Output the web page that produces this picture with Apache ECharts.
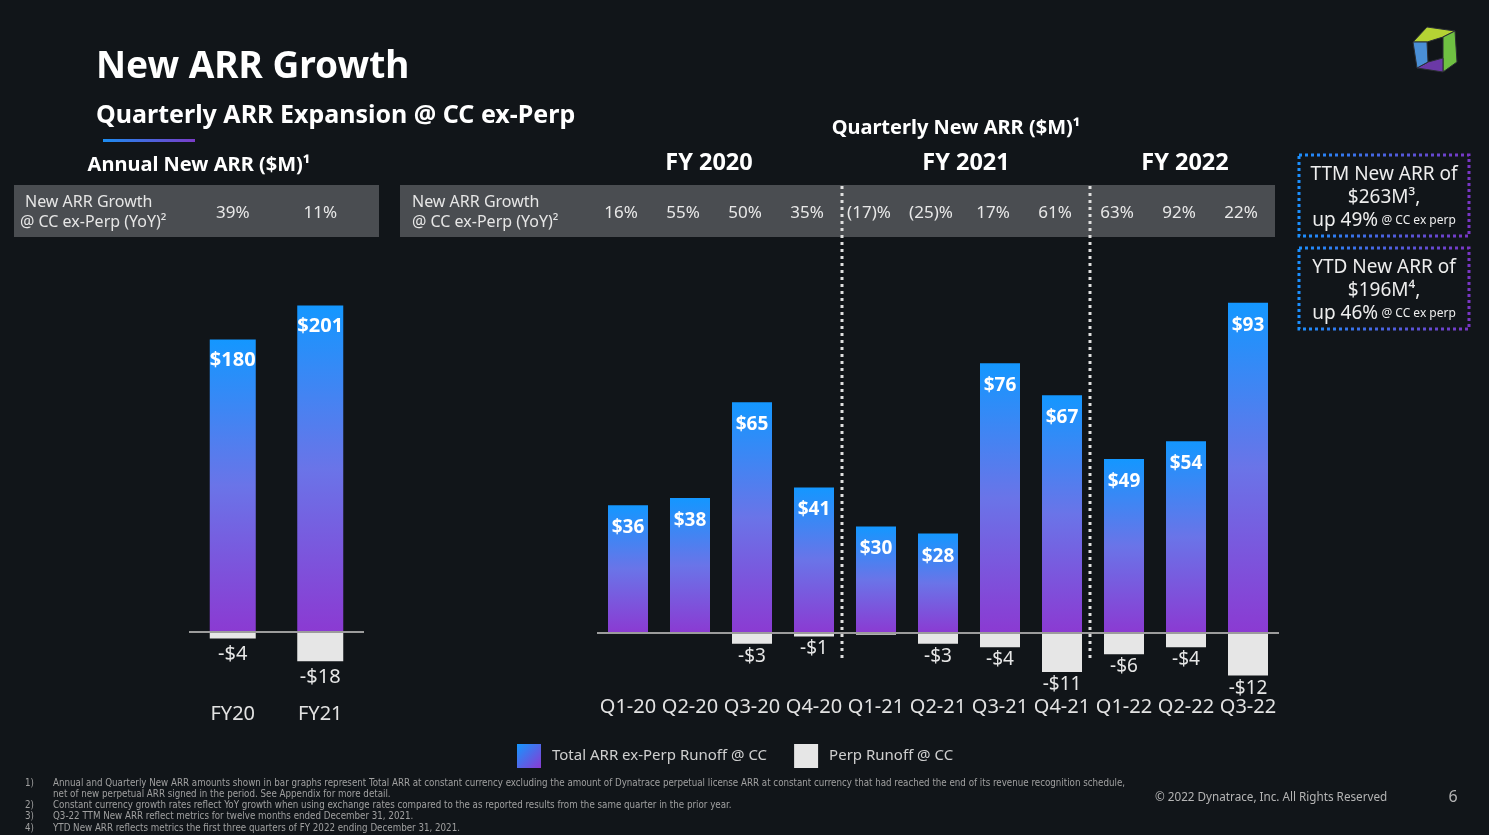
<!DOCTYPE html>
<html>
<head>
<meta charset="utf-8">
<script src="https://cdn.jsdelivr.net/npm/echarts@6/dist/echarts.min.js"></script>
<style>
html,body{margin:0;padding:0;background:#111519;}
#c{width:1489px;height:835px;}
</style>
</head>
<body>
<div id="c"></div>
<script>
// ---- data ----
const years = ['FY20', 'FY21'];
const annualNew = [180, 201];
const annualPerp = [-4, -18];
const annualGrowth = ['39%', '11%'];

const quarters = ['Q1-20','Q2-20','Q3-20','Q4-20','Q1-21','Q2-21','Q3-21','Q4-21','Q1-22','Q2-22','Q3-22'];
const quarterNew = [36, 38, 65, 41, 30, 28, 76, 67, 49, 54, 93];
const quarterPerp = [0, 0, -3, -1, -0.5, -3, -4, -11, -6, -4, -12];
const quarterGrowth = ['16%','55%','50%','35%','(17)%','(25)%','17%','61%','63%','92%','22%'];

const fiscalYears = ['FY 2020', 'FY 2021', 'FY 2022'];
const footnotes = [
  ['1)', 'Annual and Quarterly New ARR amounts shown in bar graphs represent Total ARR at constant currency excluding the amount of Dynatrace perpetual license ARR at constant currency that had reached the end of its revenue recognition schedule,'],
  ['', 'net of new perpetual ARR signed in the period. See Appendix for more detail.'],
  ['2)', 'Constant currency growth rates reflect YoY growth when using exchange rates compared to the as reported results from the same quarter in the prior year.'],
  ['3)', 'Q3-22 TTM New ARR reflect metrics for twelve months ended December 31, 2021.'],
  ['4)', 'YTD New ARR reflects metrics the first three quarters of FY 2022 ending December 31, 2021.']
];

// ---- styles ----
const FONT = '"Noto Sans", "Open Sans", sans-serif';
const barGrad = new echarts.graphic.LinearGradient(0, 0, 0, 1, [
  {offset: 0, color: '#1497ff'},
  {offset: 0.5, color: '#6a74e8'},
  {offset: 1, color: '#8b3ad2'}
]);
const legendGrad = new echarts.graphic.LinearGradient(0, 0, 1, 1, [
  {offset: 0, color: '#1497ff'},
  {offset: 1, color: '#8b3ad2'}
]);
const perpColor = '#e6e6e6';
const NEW_NAME = 'Total ARR ex-Perp Runoff @ CC';
const PERP_NAME = 'Perp Runoff @ CC';

const zeroLine = {
  silent: true, animation: false, symbol: ['none', 'none'],
  label: {show: false},
  lineStyle: {color: '#9c9c9c', width: 2, type: 'solid'},
  data: [{yAxis: 0}]
};

function posLabel(size, dist) {
  return {show: true, position: 'insideTop', distance: dist, color: '#ffffff',
    fontWeight: 'bold', fontSize: size, fontFamily: FONT,
    formatter: p => '$' + p.value};
}
function negLabel(size, dist) {
  return {show: true, position: 'bottom', distance: dist, color: '#e6e6e6',
    fontSize: size, fontFamily: FONT,
    formatter: p => (p.value <= -1 ? '-$' + Math.abs(p.value) : '')};
}

function txt(x, y, text, size, opts) {
  opts = opts || {};
  return {type: 'text', silent: true, x: x, y: y, style: {
    text: text, fill: opts.fill || '#ffffff',
    font: (opts.weight || 'normal') + ' ' + size + 'px ' + (opts.family || FONT),
    textAlign: opts.align || 'left', textVerticalAlign: 'middle'
  }};
}

const graphics = [];
// title
graphics.push(txt(96, 67, 'New ARR Growth', 37, {weight: 'bold'}));
graphics.push(txt(96, 116, 'Quarterly ARR Expansion @ CC ex-Perp', 25, {weight: 'bold'}));
graphics.push({type: 'rect', silent: true, shape: {x: 103, y: 139, width: 92, height: 3},
  style: {fill: new echarts.graphic.LinearGradient(0, 0, 1, 0, [{offset: 0, color: '#1c8cf0'}, {offset: 1, color: '#7a3cc8'}])}});
// headers
graphics.push(txt(199, 165, 'Annual New ARR ($M)¹', 20, {weight: 'bold', align: 'center'}));
graphics.push(txt(956, 128, 'Quarterly New ARR ($M)¹', 20, {weight: 'bold', align: 'center'}));
[709, 966, 1185].forEach((x, i) => graphics.push(txt(x, 163, fiscalYears[i], 23.5, {weight: 'bold', align: 'center'})));
// tables
graphics.push({type: 'rect', silent: true, z: -10, shape: {x: 14, y: 185, width: 365, height: 52}, style: {fill: '#4a4d51'}});
graphics.push({type: 'rect', silent: true, z: -10, shape: {x: 400, y: 185, width: 875, height: 52}, style: {fill: '#4a4d51'}});
[[25, 20], [412, 412]].forEach(([x1, x2]) => {
  graphics.push(txt(x1, 202, 'New ARR Growth', 16, {fill: '#e6e6e6'}));
  graphics.push(txt(x2, 222, '@ CC ex-Perp (YoY)²', 16, {fill: '#e6e6e6'}));
});
// info boxes
const boxGrad = () => new echarts.graphic.LinearGradient(0, 0, 1, 0, [{offset: 0, color: '#1a90ff'}, {offset: 1, color: '#7a35c4'}]);
[[155, ['TTM New ARR of', '$263M³,', '49%']], [248, ['YTD New ARR of', '$196M⁴,', '46%']]].forEach(([y, lines]) => {
  graphics.push({type: 'rect', silent: true, shape: {x: 1299, y: y, width: 170, height: 81},
    style: {fill: 'none', stroke: boxGrad(), lineWidth: 3, lineDash: [3, 3]}});
  graphics.push(txt(1384, y + 20, lines[0], 19, {fill: '#eeeeee', align: 'center'}));
  graphics.push(txt(1384, y + 43, lines[1], 19, {fill: '#eeeeee', align: 'center'}));
  graphics.push({type: 'text', silent: true, x: 1384, y: y + 66, style: {
    text: '{a|up ' + lines[2] + '} {b|@ CC ex perp}', textAlign: 'center', textVerticalAlign: 'middle',
    rich: {a: {fontSize: 19, fontFamily: FONT, fill: '#eeeeee'}, b: {fontSize: 12, fontFamily: FONT, fill: '#eeeeee'}}
  }});
});
// logo
const logo = [
  [[1413,42],[1427,27],[1455,31],[1443,37],[1427,42]], '#b5d334',
  [[1455,31],[1457,62],[1443,72],[1443,58],[1443,37]], '#6fc042',
  [[1443,72],[1417,68],[1428,62],[1443,58]], '#6b39a6',
  [[1417,68],[1413,42],[1427,42],[1428,62]], '#4a8fd6'
];
for (let i = 0; i < logo.length; i += 2) {
  graphics.push({type: 'polygon', silent: true, shape: {points: logo[i]}, style: {fill: logo[i + 1], stroke: '#2a2e33', lineWidth: 1}});
}
// footnotes
const FN_FONT = '"Liberation Sans Narrow", "DejaVu Sans Condensed", sans-serif';
footnotes.forEach((f, i) => {
  const y = 783 + i * 11.3;
  if (f[0]) graphics.push(txt(25, y, f[0], 9.7, {fill: '#a0a0a0', family: FN_FONT}));
  graphics.push(txt(53, y, f[1], 9.7, {fill: '#a0a0a0', family: FN_FONT}));
});
graphics.push(txt(1155, 798, '© 2022 Dynatrace, Inc. All Rights Reserved', 11.7, {fill: '#b4b4b4'}));
graphics.push(txt(1453, 797, '6', 16, {fill: '#b4b4b4', align: 'center'}));

const catLabel = {color: '#e2e2e2', fontSize: 20, fontFamily: FONT, margin: 7, interval: 0};
const pctLabel = {color: '#e8e8e8', fontSize: 17, fontFamily: FONT, margin: 8, interval: 0};

const option = {
  backgroundColor: '#111519',
  animation: false,
  textStyle: {fontFamily: FONT},
  legend: {
    left: 512, top: 739, itemWidth: 24, itemHeight: 24, itemGap: 27,
    icon: 'rect',
    data: [{name: NEW_NAME, itemStyle: {color: legendGrad}}, {name: PERP_NAME}],
    textStyle: {color: '#cfcfcf', fontSize: 15, fontFamily: FONT, padding: [2, 0, 0, 6]}
  },
  grid: [
    {left: 189, width: 175, top: 274.5, height: 422.5},
    {left: 597, width: 682, top: 278, height: 411.8}
  ],
  xAxis: [
    {type: 'category', gridIndex: 0, data: years, position: 'bottom',
      axisLine: {show: false, onZero: false}, axisTick: {show: false}, axisLabel: catLabel},
    {type: 'category', gridIndex: 1, data: quarters, position: 'bottom',
      axisLine: {show: false, onZero: false}, axisTick: {show: false}, axisLabel: catLabel},
    {type: 'category', gridIndex: 0, data: annualGrowth, position: 'top', offset: 45,
      axisLine: {show: false, onZero: false}, axisTick: {show: false}, axisLabel: pctLabel},
    {type: 'category', gridIndex: 1, data: quarterGrowth, position: 'top', offset: 48,
      axisLine: {show: false, onZero: false}, axisTick: {show: false},
      axisLabel: Object.assign({}, pctLabel, {padding: [0, 14, 0, 0]})}
  ],
  yAxis: [
    {type: 'value', gridIndex: 0, min: -40, max: 220, show: false},
    {type: 'value', gridIndex: 1, min: -16, max: 100, show: false}
  ],
  series: [
    {name: NEW_NAME, type: 'bar', xAxisIndex: 0, yAxisIndex: 0, data: annualNew, barWidth: 46, barGap: '-100%',
      itemStyle: {color: barGrad}, label: posLabel(20, 11), markLine: zeroLine},
    {name: PERP_NAME, type: 'bar', xAxisIndex: 0, yAxisIndex: 0, data: annualPerp, barWidth: 46, barGap: '-100%',
      itemStyle: {color: perpColor}, label: negLabel(20, 6)},
    {name: NEW_NAME, type: 'bar', xAxisIndex: 1, yAxisIndex: 1, data: quarterNew, barWidth: 40, barGap: '-100%',
      itemStyle: {color: barGrad}, label: posLabel(19, 13), markLine: zeroLine},
    {name: PERP_NAME, type: 'bar', xAxisIndex: 1, yAxisIndex: 1, data: quarterPerp, barWidth: 40, barGap: '-100%',
      itemStyle: {color: perpColor}, label: negLabel(19, 3)}
  ],
  graphic: graphics
};

const chart = echarts.init(document.getElementById('c'), null, {renderer: 'canvas'});
chart.setOption(option);

// fiscal-year dotted separators, placed between category columns via the axis scale
const seps = [3, 7].map(i => {
  const a = chart.convertToPixel({xAxisIndex: 1}, quarters[i]);
  const b = chart.convertToPixel({xAxisIndex: 1}, quarters[i + 1]);
  const x = Math.round((a + b) / 2) - 3;
  return {type: 'line', silent: true, z: 50, shape: {x1: x, y1: 186, x2: x, y2: 660},
    style: {stroke: '#e0e0e0', lineWidth: 3, lineDash: [3, 4]}};
});
chart.setOption({graphic: graphics.concat(seps)});
</script>
</body>
</html>
